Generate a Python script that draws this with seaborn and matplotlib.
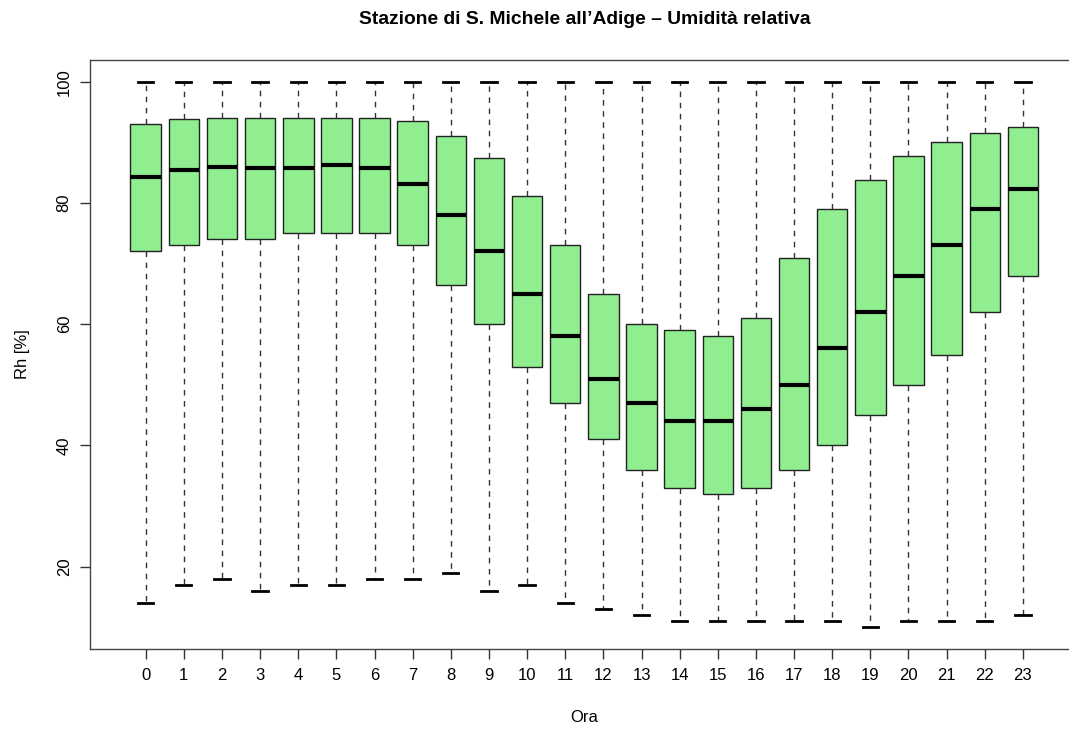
import matplotlib
matplotlib.use("Agg")
import matplotlib.pyplot as plt
import numpy as np
import pandas as pd
import seaborn as sns

# hourly relative humidity statistics
hours = list(range(24))
rh_min = [14, 17, 18, 16, 17, 17, 18, 18, 19, 16, 17, 14,
          13, 12, 11, 11, 11, 11, 11, 10, 11, 11, 11, 12]
rh_q1 = [72, 73, 74, 74, 75, 75, 75, 73, 66.5, 60, 53, 47,
         41, 36, 33, 32, 33, 36, 40, 45, 50, 55, 62, 68]
rh_med = [84.3, 85.5, 86, 85.8, 85.8, 86.2, 85.8, 83.2, 78, 72, 65, 58,
          51, 47, 44, 44, 46, 50, 56, 62, 68, 73, 79, 82.3]
rh_q3 = [93, 93.8, 94, 94.1, 94.1, 94.1, 94.1, 93.5, 91, 87.5, 81.2, 73,
         65, 60, 59, 58, 61, 71, 79, 83.8, 87.7, 90, 91.5, 92.5]
rh_max = [100] * 24

# five points per hour reproduce min, quartiles, median and max exactly
rows = []
for h, a, b, c, d, e in zip(hours, rh_min, rh_q1, rh_med, rh_q3, rh_max):
    for v in (a, b, c, d, e):
        rows.append({"Ora": str(h), "Rh": v})
df = pd.DataFrame(rows)

plt.rcParams['font.family'] = ['Liberation Sans', 'DejaVu Sans']

W, H = 1069, 731
fig = plt.figure(figsize=(W / 100, H / 100), dpi=100)
left, right, top, bottom = 90, 1078.6, 60, 648.7
ax = fig.add_axes([left / W, 1 - bottom / H, (right - left) / W, (bottom - top) / H])

sns.boxplot(
    data=df, x="Ora", y="Rh", order=[str(h) for h in hours],
    whis=(0, 100), width=0.8, color="#90EE90", saturation=1,
    linecolor="black", linewidth=1, fliersize=0, ax=ax,
    whiskerprops=dict(linestyle=(0, (4, 4)), color="#333333", linewidth=1),
    capprops=dict(color="black", linewidth=2),
    medianprops=dict(color="black", linewidth=3, solid_capstyle="butt"),
    boxprops=dict(edgecolor="#222222"),
)

ax.set_xlim(-1.46, 24.46)
ax.set_ylim(6.45, 103.6)
ax.set_yticks([20, 40, 60, 80, 100])
ax.tick_params(axis="both", length=7.2, width=1, labelsize=12, color="#333333")
ax.tick_params(axis="x", pad=7)
ax.tick_params(axis="y", pad=6)
for lab in ax.get_yticklabels():
    lab.set_rotation(90)
    lab.set_va("center")

for s in ax.spines.values():
    s.set_color("#444444")
    s.set_linewidth(1)

ax.set_xlabel("")
ax.set_ylabel("")
mid_x = (left + right) / 2
mid_y = (top + bottom) / 2
fig.text(mid_x / W, 1 - 718 / H, "Ora", ha="center", va="center", fontsize=12)
fig.text(22 / W, 1 - mid_y / H, "Rh [%]", ha="center", va="center", fontsize=12, rotation=90)
fig.text(mid_x / W, 1 - 20 / H, "Stazione di S. Michele all\u2019Adige \u2013 Umidit\u00e0 relativa",
         ha="center", va="center", fontsize=13.9, fontweight="bold")

fig.savefig("out.png", dpi=100)
